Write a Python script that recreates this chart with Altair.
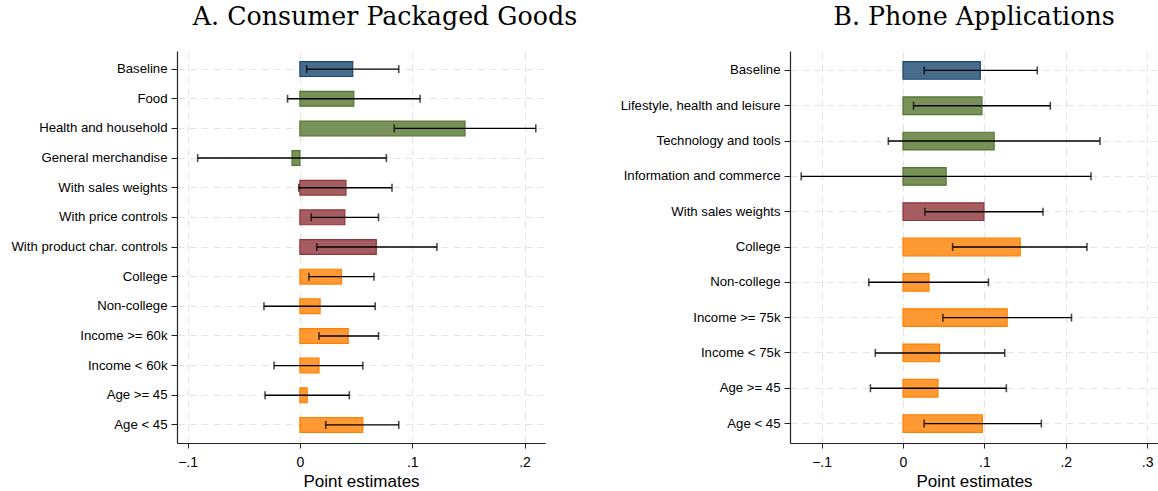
import altair as alt
import pandas as pd

# Panel A: consumer packaged goods
cpg_labels = [
    "Baseline", "Food", "Health and household", "General merchandise",
    "With sales weights", "With price controls", "With product char. controls",
    "College", "Non-college", "Income >= 60k", "Income < 60k",
    "Age >= 45", "Age < 45",
]
cpg_group = ["base", "cat", "cat", "cat", "rob", "rob", "rob",
             "het", "het", "het", "het", "het", "het"]
cpg_est = [0.047, 0.048, 0.147, -0.007, 0.041, 0.040, 0.068,
           0.037, 0.018, 0.043, 0.017, 0.0065, 0.056]
cpg_lo = [0.006, -0.011, 0.084, -0.091, -0.001, 0.010, 0.015,
          0.008, -0.032, 0.017, -0.023, -0.031, 0.023]
cpg_hi = [0.088, 0.107, 0.210, 0.077, 0.082, 0.070, 0.122,
          0.066, 0.067, 0.070, 0.056, 0.044, 0.088]

# Panel B: phone applications
app_labels = [
    "Baseline", "Lifestyle, health and leisure", "Technology and tools",
    "Information and commerce", "With sales weights", "College",
    "Non-college", "Income >= 75k", "Income < 75k", "Age >= 45", "Age < 45",
]
app_group = ["base", "cat", "cat", "cat", "rob",
             "het", "het", "het", "het", "het", "het"]
app_est = [0.095, 0.097, 0.112, 0.053, 0.0995, 0.144,
           0.032, 0.128, 0.045, 0.043, 0.0975]
app_lo = [0.026, 0.013, -0.018, -0.125, 0.027, 0.061,
          -0.042, 0.049, -0.034, -0.040, 0.026]
app_hi = [0.165, 0.181, 0.242, 0.231, 0.172, 0.226,
          0.105, 0.207, 0.125, 0.127, 0.170]

groups = ["base", "cat", "rob", "het"]
fills = ["#486C8C", "#779159", "#A65D62", "#FF9933"]
strokes = ["#1A476F", "#55752F", "#90353B", "#FF8000"]

GRID = "#E4E4E4"
AXIS = "#222222"
LABEL_EXPR = "datum.value == 0 ? '0' : replace(format(datum.value, '.1f'), '0.', '.')"


def panel(labels, grp, est, lo, hi, domain, ticks, title, title_dx, pad_outer):
    df = pd.DataFrame({"label": labels, "grp": grp, "est": est, "lo": lo, "hi": hi})
    y = alt.Y(
        "label:N", sort=labels, title=None,
        scale=alt.Scale(paddingInner=0.5, paddingOuter=pad_outer),
        axis=alt.Axis(
            labelFont="Liberation Sans", labelFontSize=13.2, labelColor="black",
            labelLimit=400, labelPadding=4, tickSize=6, tickColor=AXIS,
            domainColor=AXIS, domainWidth=1.2, grid=True, gridColor=GRID,
            gridDash=[7, 5], gridWidth=1.2, bandPosition=0.5,
        ),
    )
    xscale = alt.Scale(domain=domain, nice=False, zero=False)
    xaxis = alt.Axis(
        values=ticks, labelExpr=LABEL_EXPR, labelFont="Liberation Sans",
        labelFontSize=14, labelColor="black", tickSize=5, tickColor=AXIS,
        labelPadding=7, domainColor=AXIS, domainWidth=1.2, grid=True,
        gridColor=GRID, gridDash=[7, 5], gridWidth=1.2,
        title="Point estimates", titleFont="Liberation Sans", titleFontSize=17,
        titleFontWeight="normal", titleColor="black", titlePadding=4,
    )
    base = alt.Chart(df)
    bars = base.mark_bar(strokeWidth=1.2).encode(
        y=y,
        x=alt.X("est:Q", scale=xscale, axis=xaxis),
        x2=alt.datum(0),
        fill=alt.Fill("grp:N", scale=alt.Scale(domain=groups, range=fills), legend=None),
        stroke=alt.Stroke("grp:N", scale=alt.Scale(domain=groups, range=strokes), legend=None),
    )
    ci = base.mark_rule(color="black", strokeWidth=1.4).encode(
        y=alt.Y("label:N", sort=labels),
        x=alt.X("lo:Q", scale=xscale),
        x2="hi:Q",
    )
    cap_lo = base.mark_tick(color="black", size=8, thickness=1.6).encode(
        y=alt.Y("label:N", sort=labels), x=alt.X("lo:Q", scale=xscale))
    cap_hi = base.mark_tick(color="black", size=8, thickness=1.6).encode(
        y=alt.Y("label:N", sort=labels), x=alt.X("hi:Q", scale=xscale))
    return alt.layer(bars, ci, cap_lo, cap_hi).properties(
        width=368, height=392,
        title=alt.TitleParams(
            title, font="DejaVu Serif", fontSize=25.3, fontWeight="normal",
            color="black", dx=title_dx, offset=21,
        ),
    )


left = panel(cpg_labels, cpg_group, cpg_est, cpg_lo, cpg_hi,
             [-0.1094, 0.2182], [-0.1, 0, 0.1, 0.2],
             "A. Consumer Packaged Goods", 24, 0.36)
right = panel(app_labels, app_group, app_est, app_lo, app_hi,
              [-0.1388, 0.3133], [-0.1, 0, 0.1, 0.2, 0.3],
              "B. Phone Applications", 0, 0.3)

chart = alt.hconcat(left, right, spacing=42).properties(
    padding={"left": 10, "top": 4, "right": 0, "bottom": 0},
    background="white",
).configure_view(stroke=None)

chart.save("out.html", embed_options={"renderer": "svg", "actions": False})
